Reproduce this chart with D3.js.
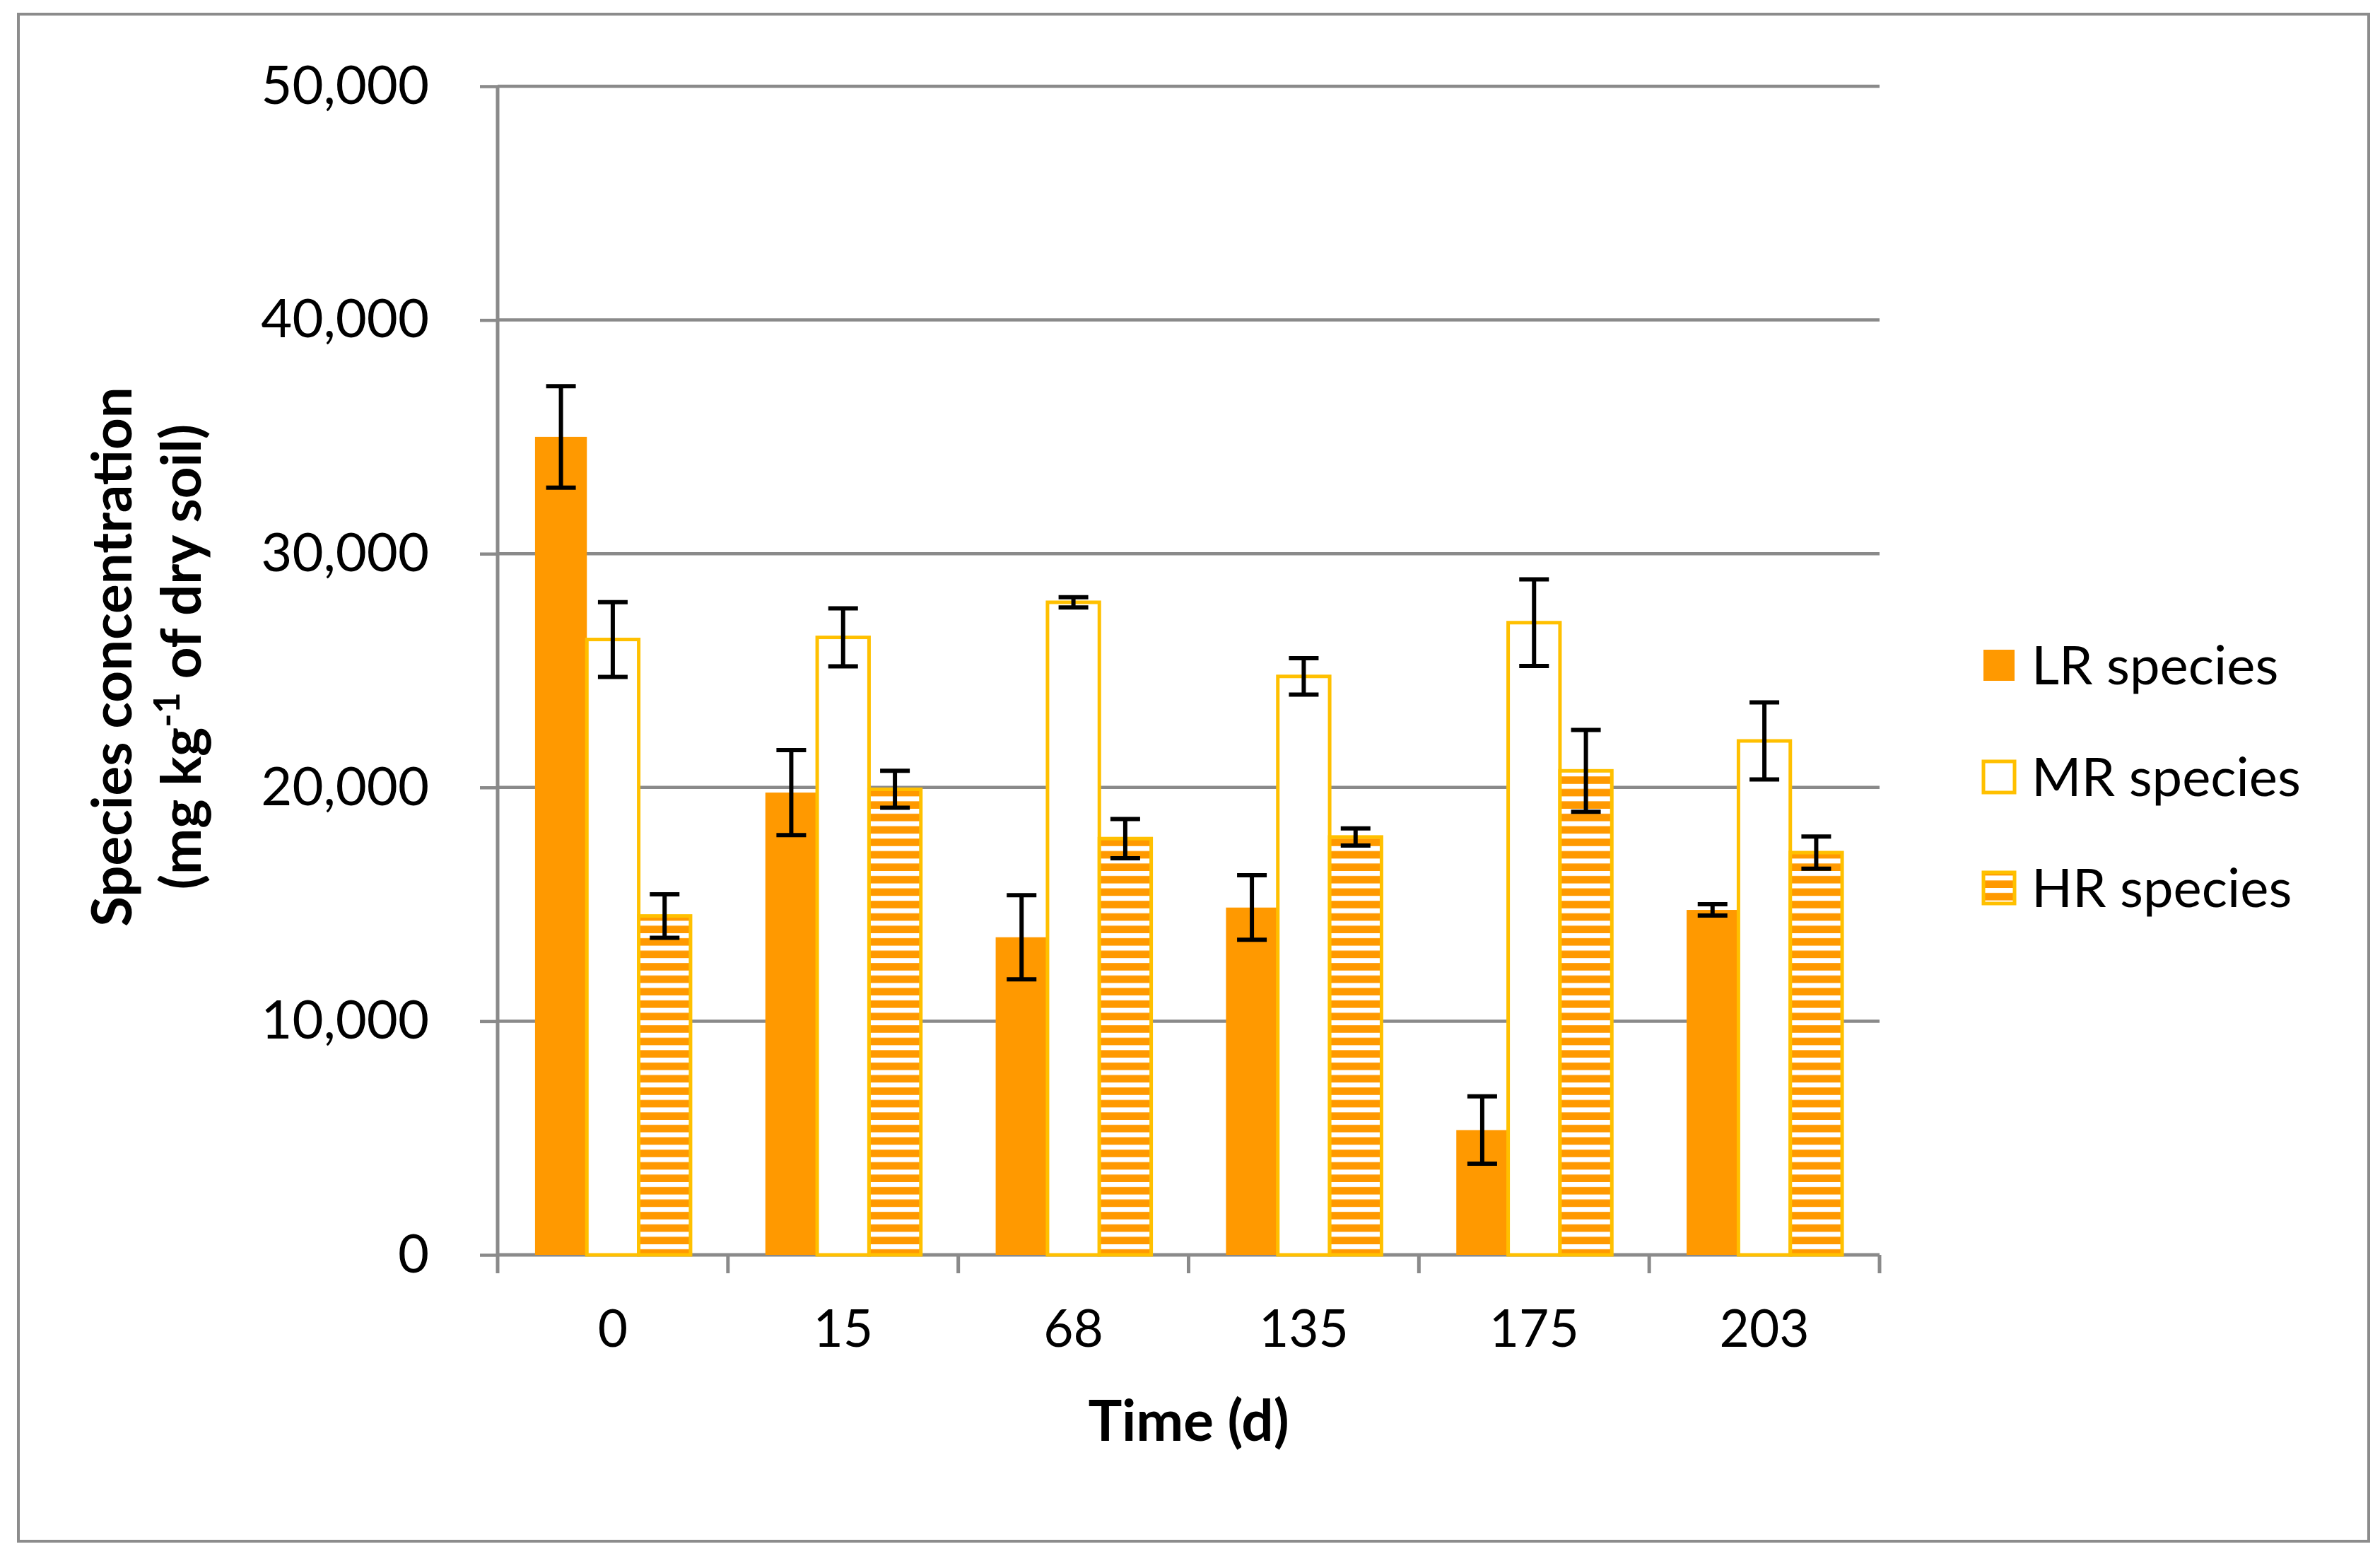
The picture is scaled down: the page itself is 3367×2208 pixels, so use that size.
<!DOCTYPE html>
<html>
<head>
<meta charset="utf-8">
<script src="https://cdn.jsdelivr.net/npm/d3@7"></script>
<style>
  html, body { margin: 0; padding: 0; background: #fff; }
  svg { display: block; }
  text { font-family: Lato, "Open Sans", sans-serif; fill: #000; }
</style>
</head>
<body>
<svg id="chart" width="3367" height="2208"></svg>
<script>
// ---- data ----
const categories = ["0", "15", "68", "135", "175", "203"];
const seriesNames = ["LR species", "MR species", "HR species"];
const lrValues = [35000, 19780, 13590, 14860, 5340, 14760];
const lrErrors = [2170, 1820, 1800, 1380, 1440, 240];
const mrValues = [26330, 26420, 27920, 24750, 27050, 21990];
const mrErrors = [1600, 1240, 220, 780, 1850, 1650];
const hrValues = [14500, 19920, 17810, 17880, 20710, 17210];
const hrErrors = [930, 790, 840, 370, 1750, 690];
const yTicks = [0, 10000, 20000, 30000, 40000, 50000];

const W = 3367, H = 2208;
const svg = d3.select("#chart");

const orange = "#FF9900", gold = "#FFC000", grid = "#8a8a8a";

const defs = svg.append("defs");
const pat = defs.append("pattern").attr("id", "hstripe")
  .attr("patternUnits", "userSpaceOnUse").attr("width", 40).attr("height", 17.6);
pat.append("rect").attr("width", 40).attr("height", 17.6).attr("fill", orange);
pat.append("rect").attr("y", 0).attr("width", 40).attr("height", 7).attr("fill", "#fff");

// outer frame
svg.append("rect").attr("x", 26).attr("y", 20).attr("width", 3325).attr("height", 2160)
  .attr("fill", "#fff").attr("stroke", "#8c8c8c").attr("stroke-width", 4);

const plot = { left: 704, right: 2659, top: 122, bottom: 1775 };

const y = d3.scaleLinear().domain([0, 50000]).range([plot.bottom, plot.top]);
const x0 = d3.scaleBand().domain(categories).range([plot.left, plot.right]).padding(0);
const groupW = 220;
const x1 = d3.scaleBand().domain(seriesNames).range([0, groupW]).padding(0);

// gridlines
svg.append("g").selectAll("line").data(yTicks.filter(d => d > 0)).join("line")
  .attr("x1", plot.left).attr("x2", plot.right)
  .attr("y1", d => y(d)).attr("y2", d => y(d))
  .attr("stroke", grid).attr("stroke-width", 4.5);

// y axis
const yAxis = d3.axisLeft(y).tickValues(yTicks).tickSize(25).tickPadding(72)
  .tickFormat(d3.format(","));
const gy = svg.append("g").attr("transform", `translate(${plot.left},0)`).call(yAxis);
gy.select(".domain").attr("stroke", grid).attr("stroke-width", 5).attr("d", `M0,${plot.top}V${plot.bottom}`);
gy.selectAll(".tick line").attr("stroke", grid).attr("stroke-width", 4.5);
gy.selectAll(".tick text").attr("font-size", 76).attr("font-family", "Lato").attr("fill", "#000");

// x axis
const xAxis = d3.axisBottom(x0).tickSize(0).tickPadding(78);
const gx = svg.append("g").attr("transform", `translate(0,${plot.bottom})`).call(xAxis);
gx.select(".domain").attr("stroke", grid).attr("stroke-width", 5).attr("d", `M${plot.left},0H${plot.right}`);
gx.selectAll(".tick text").attr("font-size", 73).attr("font-family", "Lato").attr("fill", "#000");
// boundary ticks between categories
const bounds = categories.map(c => x0(c)).concat([x0(categories[categories.length-1]) + x0.bandwidth()]);
gx.selectAll("line.bnd").data(bounds).join("line").attr("class", "bnd")
  .attr("x1", d => d).attr("x2", d => d).attr("y1", 0).attr("y2", 26)
  .attr("stroke", grid).attr("stroke-width", 5);

// bars
const series = [
  { name: "LR species", values: lrValues, errors: lrErrors },
  { name: "MR species", values: mrValues, errors: mrErrors },
  { name: "HR species", values: hrValues, errors: hrErrors }
];
const bw = x1.bandwidth();
const gBars = svg.append("g");
series.forEach((s, si) => {
  const data = categories.map((c, i) => ({ c, v: s.values[i], e: s.errors[i] }));
  const bx = d => x0(d.c) + (x0.bandwidth() - groupW) / 2 + x1(s.name);
  const sel = gBars.append("g").selectAll("rect").data(data).join("rect")
    .attr("x", bx).attr("width", bw)
    .attr("y", d => y(d.v)).attr("height", d => y(0) - y(d.v));
  if (si === 0) sel.attr("fill", orange);
  else if (si === 1) sel.attr("fill", "#fff").attr("stroke", gold).attr("stroke-width", 5);
  else sel.attr("fill", "url(#hstripe)").attr("stroke", gold).attr("stroke-width", 5);
  s.data = data; s.bx = bx;
});

// error bars on top
const gErr = svg.append("g").attr("stroke", "#000").attr("stroke-width", 6);
series.forEach(s => {
  s.data.forEach(d => {
    const cx = s.bx(d) + bw / 2;
    const yt = y(d.v + d.e), yb = y(d.v - d.e);
    gErr.append("line").attr("x1", cx).attr("x2", cx).attr("y1", yt).attr("y2", yb);
    gErr.append("line").attr("x1", cx - 21).attr("x2", cx + 21).attr("y1", yt).attr("y2", yt);
    gErr.append("line").attr("x1", cx - 21).attr("x2", cx + 21).attr("y1", yb).attr("y2", yb);
  });
});

// axis titles
svg.append("text").attr("x", (plot.left + plot.right) / 2).attr("y", 2038)
  .attr("text-anchor", "middle").attr("font-size", 80).attr("font-weight", "bold")
  .text("Time (d)");

const yt = svg.append("text")
  .attr("text-anchor", "middle").attr("font-weight", "bold").attr("font-size", 78);
yt.append("tspan").attr("x", -929).attr("y", 186).text("Species concentration");
const l2 = yt.append("tspan").attr("x", -929).attr("y", 284);
l2.append("tspan").text("(mg kg");
l2.append("tspan").attr("dy", -30).attr("font-size", 52).text("-1");
l2.append("tspan").attr("dy", 30).text(" of dry soil)");
yt.attr("transform", "rotate(-90)");

// legend
const legendY = [941, 1099, 1256];
const lg = svg.append("g");
series.forEach((s, i) => {
  const g = lg.append("g").attr("transform", `translate(2806,${legendY[i]})`);
  const r = g.append("rect").attr("x", 0).attr("y", -22).attr("width", 44).attr("height", 44);
  if (i === 0) r.attr("fill", orange);
  else if (i === 1) r.attr("fill", "#fff").attr("stroke", gold).attr("stroke-width", 5);
  else r.attr("fill", "url(#hstripe)").attr("stroke", gold).attr("stroke-width", 5);
  g.append("text").attr("x", 68).attr("y", 0).attr("dy", "0.36em")
    .attr("font-size", 76).text(s.name);
});
</script>
</body>
</html>
